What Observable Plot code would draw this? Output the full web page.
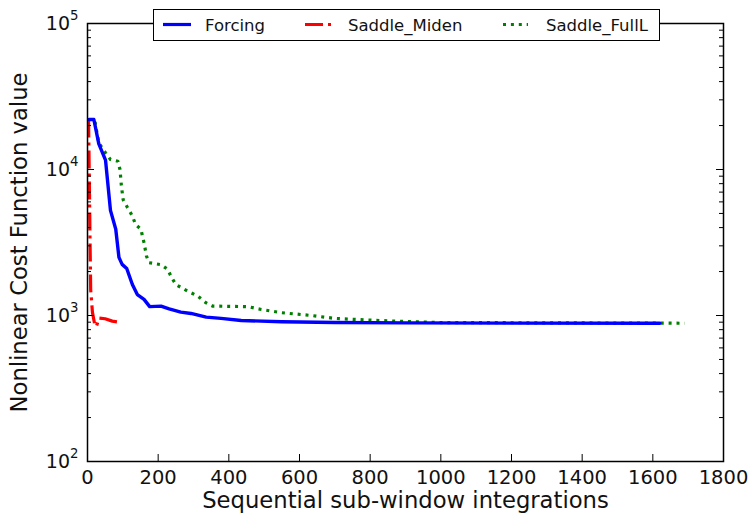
<!DOCTYPE html>
<html>
<head>
<meta charset="utf-8">
<script src="https://cdn.jsdelivr.net/npm/d3@7"></script>
<script src="https://cdn.jsdelivr.net/npm/@observablehq/plot@0.6"></script>
<style>
  html, body { margin: 0; padding: 0; background: #fff; }
  #wrap { position: relative; width: 753px; height: 514px; font-family: "DejaVu Sans", sans-serif; }
  #wrap svg { display: block; }
  #legend { position: absolute; left: 0; top: 0; pointer-events: none; }
</style>
</head>
<body>
<div id="wrap"></div>
<script>
// ---- data ----
const seriesNames = ["Forcing", "Saddle_Miden", "Saddle_FullL"];

const forcingX = [4, 18, 32, 51, 65, 80, 89, 98, 111, 127, 141, 160, 176, 208, 231, 264, 293, 336, 378, 435, 549, 700, 900, 1200, 1620];
const forcingY = [22000, 22000, 15000, 11600, 5250, 3900, 2500, 2240, 2100, 1630, 1390, 1290, 1150, 1160, 1110, 1055, 1033, 975, 955, 925, 906, 895, 890, 887, 885];

const midenX = [3, 5, 7, 9, 14, 20, 25, 33, 50, 70, 90];
const midenY = [22000, 9000, 3500, 1500, 1050, 880, 840, 960, 950, 915, 900];

const fullLX = [4, 20, 32, 51, 65, 86, 92, 96, 101, 113, 127, 136, 151, 160, 167, 174, 208, 227, 236, 250, 283, 312, 336, 354, 454, 492, 549, 634, 700, 795, 890, 1000, 1690];
const fullLY = [22000, 22000, 15200, 13000, 11700, 11400, 10000, 7700, 6200, 5500, 4800, 4200, 3900, 3150, 2550, 2300, 2230, 2070, 1860, 1630, 1470, 1360, 1220, 1160, 1150, 1100, 1045, 1000, 955, 930, 912, 895, 885];

const xTicks = [0, 200, 400, 600, 800, 1000, 1200, 1400, 1600, 1800];
const yTicks = [100, 1000, 10000, 100000];
const yMinor = [2,3,4,5,6,7,8,9].flatMap(k => [100, 1000, 10000].map(d => k * d));

const xLabel = "Sequential sub-window integrations";
const yLabel = "Nonlinear Cost Function value";

// ---- build rows ----
const forcing = forcingX.map((x, i) => ({x, y: forcingY[i]}));
const miden = midenX.map((x, i) => ({x, y: midenY[i]}));
const fullL = fullLX.map((x, i) => ({x, y: fullLY[i]}));

// ---- layout ----
const W = 753, H = 514;
const mL = 87, mR = 30, mT = 23, mB = 53;
const xDomain = [0, 1800], yDomain = [100, 100000];
const pxPerX = (W - mL - mR) / (xDomain[1] - xDomain[0]);
const pxPerDecade = (H - mT - mB) / 3;
const fy = px => Math.pow(10, px / pxPerDecade);   // multiplicative factor for px on log axis
const dx = px => px / pxPerX;

const majorLen = 7, minorLen = 4;
const tickStyle = {stroke: "black", strokeWidth: 1};

const plot = Plot.plot({
  width: W, height: H,
  marginLeft: mL, marginRight: mR, marginTop: mT, marginBottom: mB,
  style: {fontFamily: "DejaVu Sans, sans-serif", color: "#111", background: "white", overflow: "visible"},
  x: {domain: xDomain},
  y: {type: "log", domain: yDomain},
  marks: [
    Plot.line(fullL, {x: "x", y: "y", stroke: "#008000", strokeWidth: 3.2, strokeDasharray: "3,4.9", strokeLinecap: "butt"}),
    Plot.line(miden, {x: "x", y: "y", stroke: "#ff0000", strokeWidth: 3.2, strokeDasharray: "18,5,3,5", strokeLinecap: "butt"}),
    Plot.line(forcing, {x: "x", y: "y", stroke: "#0000ff", strokeWidth: 3.4}),
    // inward ticks
    Plot.ruleX(xTicks, {x: d => d, y1: yDomain[0], y2: yDomain[0] * fy(majorLen), ...tickStyle}),
    Plot.ruleX(xTicks, {x: d => d, y1: yDomain[1], y2: yDomain[1] / fy(majorLen), ...tickStyle}),
    Plot.ruleY(yTicks, {y: d => d, x1: xDomain[0], x2: xDomain[0] + dx(majorLen), ...tickStyle}),
    Plot.ruleY(yTicks, {y: d => d, x1: xDomain[1], x2: xDomain[1] - dx(majorLen), ...tickStyle}),
    Plot.ruleY(yMinor, {y: d => d, x1: xDomain[0], x2: xDomain[0] + dx(minorLen), ...tickStyle}),
    Plot.ruleY(yMinor, {y: d => d, x1: xDomain[1], x2: xDomain[1] - dx(minorLen), ...tickStyle}),
    Plot.frame({stroke: "black", strokeWidth: 1.5}),
    Plot.axisX({ticks: xTicks, tickSize: 0, tickPadding: 8.5, fontSize: 19.5, label: null, tickFormat: d => String(d)}),
    Plot.axisY({ticks: yTicks, tickSize: 0, tickPadding: 9, fontSize: 19, label: null, tickFormat: d => String(Math.round(Math.log10(d)))}),
    Plot.text([xLabel], {frameAnchor: "bottom", dy: 39.5, fontSize: 22.7, text: d => d, textAnchor: "middle", lineAnchor: "middle", fill: "#111"}),
    Plot.text([yLabel], {frameAnchor: "left", dx: -68, rotate: -90, fontSize: 22.7, text: d => d, textAnchor: "middle", lineAnchor: "middle", fill: "#111"})
  ]
});

// power-of-ten labels with a raised exponent
d3.select(plot).selectAll('g[aria-label="y-axis tick label"] text').each(function() {
  const exp = this.textContent;
  const t = d3.select(this);
  t.text("10");
  t.append("tspan").attr("dy", "-0.75em").attr("font-size", "13.3px").text(exp);
});

const wrap = document.getElementById("wrap");
wrap.appendChild(plot);

// ---- legend (overlay straddling the top frame) ----
const legendItems = [
  {name: seriesNames[0], color: "#0000ff", dash: null, x0: 163, x1: 191, tx: 205},
  {name: seriesNames[1], color: "#ff0000", dash: "18,5,3,5", x0: 305, x1: 331, tx: 348},
  {name: seriesNames[2], color: "#008000", dash: "3,4.9", x0: 503, x1: 528, tx: 546}
];
const lg = d3.create("svg").attr("id", "legend").attr("width", W).attr("height", 60);
lg.append("rect").attr("x", 153.5).attr("y", 9.5).attr("width", 506).attr("height", 31)
  .attr("fill", "white").attr("stroke", "black").attr("stroke-width", 1);
for (const it of legendItems) {
  lg.append("line").attr("x1", it.x0).attr("x2", it.x1).attr("y1", 24.5).attr("y2", 24.5)
    .attr("stroke", it.color).attr("stroke-width", 3.2).attr("stroke-dasharray", it.dash);
  lg.append("text").attr("x", it.tx).attr("y", 30.5).attr("font-size", 16.5)
    .attr("font-family", "DejaVu Sans, sans-serif").attr("fill", "#111").text(it.name);
}
wrap.appendChild(lg.node());
</script>
</body>
</html>
